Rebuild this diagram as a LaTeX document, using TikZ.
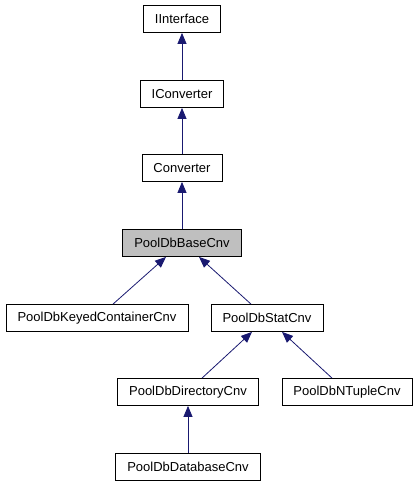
\documentclass[tikz,border=0pt]{standalone}
\usepackage{fontspec}
\setmainfont{Liberation Sans}
\usetikzlibrary{arrows.meta}
\definecolor{edgeblue}{HTML}{191970}
\definecolor{basegray}{HTML}{BFBFBF}
\begin{document}
\begin{tikzpicture}[x=1pt,y=-1pt,
    cls/.style={draw,line width=0.8pt,fill=white,minimum height=27pt,inner xsep=11.5pt,font=\fontsize{13}{15}\selectfont},
    inherit/.style={{Triangle[length=11pt,width=9pt]}-,edgeblue,line width=0.8pt}]

            \useasboundingbox (0,0) rectangle (417,485);

            % Classes
            \node[cls] (iinterface) at (182,19) {IInterface};
            \node[cls] (iconverter) at (182,94) {IConverter};
            \node[cls] (converter) at (182,168) {Converter};
            \node[cls,fill=basegray] (base) at (182,243) {PoolDbBaseCnv};
            \node[cls] (keyed) at (97,318) {PoolDbKeyedContainerCnv};
            \node[cls] (stat) at (267,318) {PoolDbStatCnv};
            \node[cls] (directory) at (188,392) {PoolDbDirectoryCnv};
            \node[cls] (ntuple) at (347,392) {PoolDbNTupleCnv};
            \node[cls] (database) at (188,467) {PoolDbDatabaseCnv};

            % Inheritance arrows
            \draw[inherit] (iinterface) -- (iconverter);
            \draw[inherit] (iconverter) -- (converter);
            \draw[inherit] (converter) -- (base);
            \draw[inherit] ([xshift=-16pt]base.south) -- ([xshift=16pt]keyed.north);
            \draw[inherit] ([xshift=17pt]base.south) -- ([xshift=-16pt]stat.north);
            \draw[inherit] ([xshift=-15pt]stat.south) -- ([xshift=14pt]directory.north);
            \draw[inherit] ([xshift=15pt]stat.south) -- ([xshift=-15pt]ntuple.north);
            \draw[inherit] (directory) -- (database);

        \end{tikzpicture}
\end{document}
